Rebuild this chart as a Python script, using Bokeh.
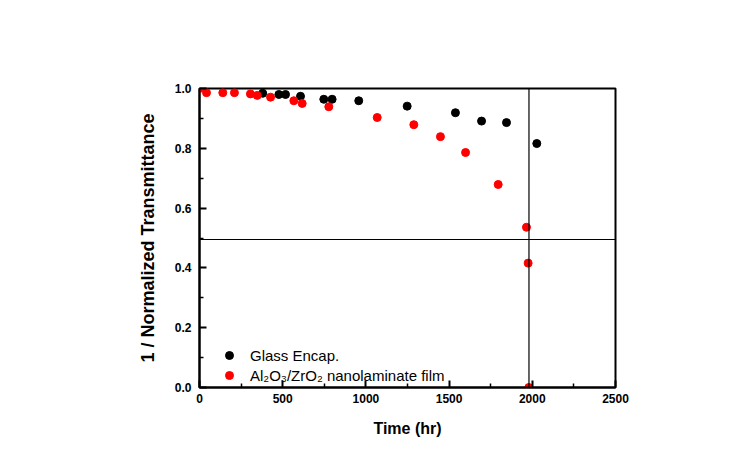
from bokeh.plotting import figure
from bokeh.models import Span, Legend, LegendItem, FixedTicker, Range1d, NumeralTickFormatter
from bokeh.embed import file_html
from bokeh.resources import INLINE

# ---- data ----
glass_time = [380, 477, 517, 607, 747, 797, 957, 1248, 1538, 1695, 1845, 2027]
glass_val = [0.984, 0.980, 0.980, 0.974, 0.964, 0.964, 0.959, 0.941, 0.919, 0.891, 0.886, 0.816]

film_time = [0, 42, 140, 210, 306, 347, 427, 567, 617, 777, 1068, 1288, 1448, 1599, 1795, 1965, 1975, 1979]
film_val = [1.0, 0.986, 0.986, 0.986, 0.982, 0.977, 0.971, 0.959, 0.950, 0.939, 0.903, 0.879, 0.839, 0.786,
            0.679, 0.536, 0.416, 0.0]

x_ticks = [0, 500, 1000, 1500, 2000, 2500]
x_minor = [250, 750, 1250, 1750, 2250]
y_ticks = [0.0, 0.2, 0.4, 0.6, 0.8, 1.0]
y_minor = [0.1, 0.3, 0.5, 0.7, 0.9]

cross_time = 1980
cross_level = 0.495

glass_label = "Glass Encap."
film_label = "Al\u2082O\u2083/ZrO\u2082 nanolaminate film"
x_title = "Time (hr)"
y_title = "1 / Normalized Transmittance"

FONT = "Liberation Sans"

p = figure(width=754, height=461, frame_width=416, frame_height=299,
           min_border_left=199, min_border_right=139, min_border_top=88, min_border_bottom=74,
           x_range=Range1d(0, 2500), y_range=Range1d(0, 1.0),
           output_backend="svg", toolbar_location=None)

p.background_fill_color = "white"
p.border_fill_color = "white"
p.outline_line_color = "black"
p.outline_line_width = 2
p.xgrid.visible = False
p.ygrid.visible = False

r_glass = p.scatter(glass_time, glass_val, size=8, color="black", line_color="black")
r_film = p.scatter(film_time, film_val, size=8, color="#ff0000", line_color="#ff0000")

p.add_layout(Span(location=cross_time, dimension="height", line_color="black", line_width=1.2))
p.add_layout(Span(location=cross_level, dimension="width", line_color="black", line_width=1.2))

p.xaxis.ticker = FixedTicker(ticks=x_ticks, minor_ticks=x_minor)
p.yaxis.ticker = FixedTicker(ticks=y_ticks, minor_ticks=y_minor)
p.yaxis.formatter = NumeralTickFormatter(format="0.0")

for ax in (p.xaxis, p.yaxis):
    ax.axis_line_width = 2
    ax.axis_line_color = "black"
    ax.major_tick_in = 7
    ax.major_tick_out = 0
    ax.minor_tick_in = 4
    ax.minor_tick_out = 0
    ax.major_tick_line_width = 2
    ax.minor_tick_line_width = 1.5
    ax.major_label_text_font = FONT
    ax.major_label_text_font_style = "bold"
    ax.major_label_text_font_size = "12px"
    ax.major_label_text_color = "black"
    ax.axis_label_text_font = FONT
    ax.axis_label_text_font_style = "bold"
    ax.axis_label_text_color = "black"

p.xaxis.axis_label = x_title
p.xaxis.axis_label_text_font_size = "16px"
p.xaxis.major_label_standoff = 6
p.xaxis.axis_label_standoff = 14

p.yaxis.axis_label = y_title
p.yaxis.axis_label_text_font_size = "18px"
p.yaxis.major_label_standoff = 8
p.yaxis.axis_label_standoff = 14

legend = Legend(items=[LegendItem(label=glass_label, renderers=[r_glass]),
                       LegendItem(label=film_label, renderers=[r_film])],
                location=(20, 2), padding=0, spacing=0, glyph_width=20, glyph_height=20,
                label_standoff=11, border_line_color=None, background_fill_alpha=0,
                label_text_font=FONT, label_text_font_size="15px", label_text_color="black")
p.add_layout(legend)

open("out.html", "w").write(file_html(p, INLINE))
